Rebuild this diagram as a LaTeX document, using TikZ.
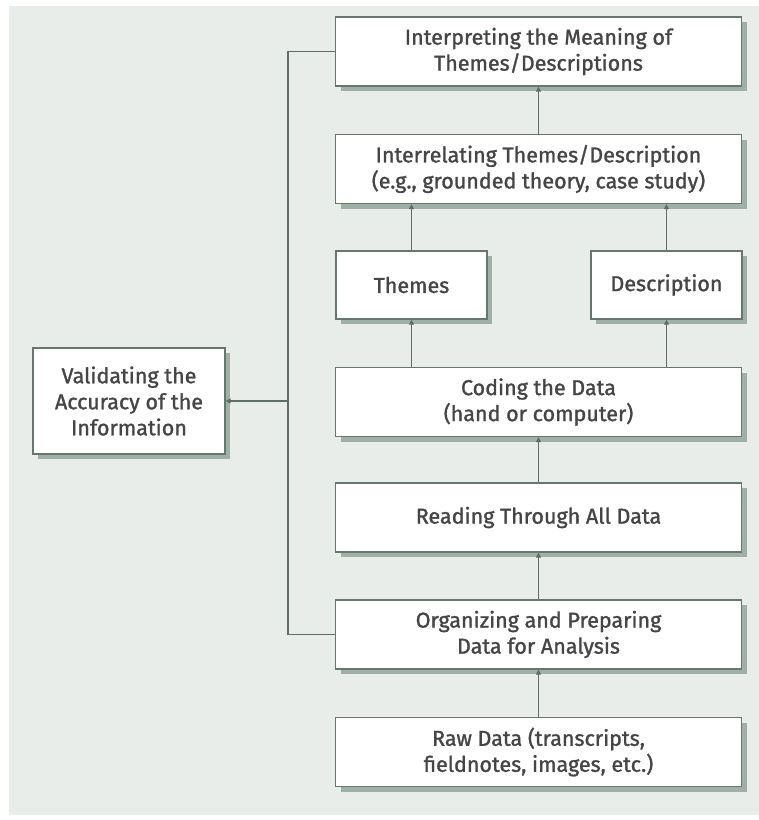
\documentclass[tikz,border=0pt]{standalone}
\usepackage{fontspec}
\setmainfont[FakeBold=1.3]{Fira Sans}
\usetikzlibrary{arrows.meta, shadows}
\definecolor{bgc}{HTML}{E8EDE9}
\definecolor{edgec}{HTML}{66786E}
\definecolor{linec}{HTML}{5E6E65}
\definecolor{shadec}{HTML}{A0B0A7}
\definecolor{txtc}{HTML}{454545}
\begin{document}
\begin{tikzpicture}[x=1pt, y=-1pt,
  box/.style={draw=edgec, line width=1.3pt, fill=white, align=center,
    text=txtc, font=\fontsize{21.5}{26}\selectfont, inner sep=0pt,
    drop shadow={shadow xshift=5pt, shadow yshift=-5pt, fill=shadec, opacity=1}},
  widebox/.style={box, minimum width=406pt, minimum height=69pt},
  smallbox/.style={box, minimum width=151pt, minimum height=68pt},
  link/.style={draw=linec, line width=1.4pt},
  arr/.style={link, -{Triangle[length=5pt, width=5pt]}}]

% page and backdrop
\useasboundingbox (0,0) rectangle (759,820);
\fill[bgc] (9,6) rectangle (759,815);

% process boxes
\node[widebox] (interp) at (538.5,51.5) {Interpreting the Meaning of\\Themes/Descriptions};
\node[widebox] (interrel) at (538.5,169) {Interrelating Themes/Description\\(e.g., grounded theory, case study)};
\node[smallbox] (themes) at (411.5,285) {Themes};
\node[smallbox] (desc) at (666.5,285) {Description};
\node[widebox] (coding) at (538.5,402) {Coding the Data\\(hand or computer)};
\node[widebox] (reading) at (538.5,517.5) {Reading Through All Data};
\node[widebox] (organize) at (538.5,634.5) {Organizing and Preparing\\Data for Analysis};
\node[widebox] (raw) at (538.5,752) {Raw Data (transcripts,\\fieldnotes, images, etc.)};
\node[box, minimum width=192pt, minimum height=106pt] (valid) at (129,401)
  {Validating the\\Accuracy of the\\Information};

% upward flow
\draw[arr] (raw.north) -- (organize.south);
\draw[arr] (organize.north) -- (reading.south);
\draw[arr] (reading.north) -- (coding.south);
\draw[arr] (coding.north -| themes.south) -- (themes.south);
\draw[arr] (coding.north -| desc.south) -- (desc.south);
\draw[arr] (themes.north) -- (interrel.south -| themes.north);
\draw[arr] (desc.north) -- (interrel.south -| desc.north);
\draw[arr] (interrel.north) -- (interp.south);

% validation spine
\coordinate (spineT) at (288,51.5);
\coordinate (spineB) at (288,634.5);
\coordinate (spineM) at (288,401);
\draw[link] (interp.west) -- (spineT) -- (spineB) -- (organize.west);
\draw[arr] (spineM) -- (valid.east);
\end{tikzpicture}
\end{document}
